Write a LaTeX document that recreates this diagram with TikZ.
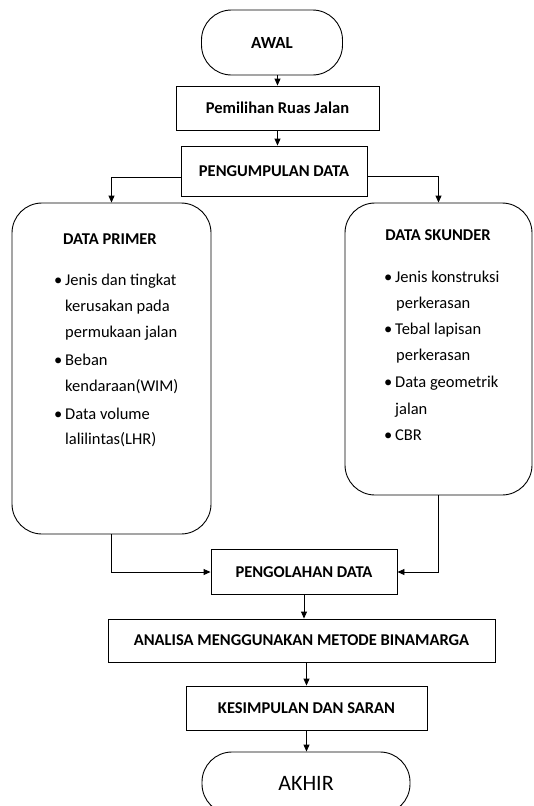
\documentclass[tikz,border=0pt]{standalone}
\usepackage{fontspec}
\setmainfont{Carlito}
\usetikzlibrary{arrows.meta}
\newcommand{\bl}{\makebox[11pt][l]{\textbullet}}
\begin{document}
\begin{tikzpicture}[x=1pt,y=-1pt,
  every node/.style={inner sep=0pt},
  pbox/.style={draw, line width=0.9pt, align=center, font=\fontsize{16.5}{20}\selectfont\bfseries},
  term/.style={draw, line width=0.9pt, rounded corners=30pt},
  dbox/.style={draw, line width=0.9pt, rounded corners=30pt},
  ttl/.style={font=\fontsize{16.5}{20}\selectfont\bfseries},
  item/.style={anchor=mid west, font=\fontsize{16.5}{20}\selectfont},
  arr/.style={draw, line width=0.9pt, -{Triangle[length=7pt,width=6pt]}},
  ln/.style={draw, line width=0.9pt}]
\useasboundingbox (0,0) rectangle (533,806);
\node[term, minimum width=141pt, minimum height=65pt, font=\fontsize{17}{20}\selectfont\bfseries] (awal) at (272,42.5) {AWAL};
\node[pbox, minimum width=203pt, minimum height=44pt] (pem) at (277.5,108) {Pemilihan Ruas Jalan};
\node[pbox, minimum width=186pt, minimum height=50pt] (peng) at (274,171) {PENGUMPULAN DATA};
\node[dbox, minimum width=199pt, minimum height=331pt] (prim) at (111.5,368.5) {};
\node[dbox, minimum width=187pt, minimum height=292pt] (skun) at (438.5,349) {};
\node[pbox, minimum width=186pt, minimum height=45pt] (olah) at (304,572) {PENGOLAHAN DATA};
\node[pbox, minimum width=387pt, minimum height=43pt] (anal) at (301.5,640.5) {ANALISA MENGGUNAKAN METODE BINAMARGA};
\node[pbox, minimum width=241pt, minimum height=44pt] (kes) at (306.5,708) {KESIMPULAN DAN SARAN};
\node[term, minimum width=208pt, minimum height=62pt, font=\fontsize{22}{26}\selectfont] (akhir) at (306,783) {AKHIR};

% DATA PRIMER text
\node[ttl] (pt) at (110,239) {DATA PRIMER};
\node[item] (p1) at (54,283) {\bl Jenis dan tingkat};
\node[item] (p2) at (65,309) {kerusakan pada};
\node[item] (p3) at (65,335) {permukaan jalan};
\node[item] (p4) at (54,363) {\bl Beban};
\node[item] (p5) at (65,389) {kendaraan(WIM)};
\node[item] (p6) at (54,417) {\bl Data volume};
\node[item] (p7) at (65,442) {lalilintas(LHR)};

% DATA SKUNDER text
\node[ttl] (st) at (438,235) {DATA SKUNDER};
\node[item] (s1) at (384,280) {\bl Jenis konstruksi};
\node[item] (s2) at (396,306) {perkerasan};
\node[item] (s3) at (384,332) {\bl Tebal lapisan};
\node[item] (s4) at (396,358) {perkerasan};
\node[item] (s5) at (384,385) {\bl Data geometrik};
\node[item] (s6) at (395,412) {jalan};
\node[item] (s7) at (384,438) {\bl CBR};

% connectors
\draw[arr] (pem.north |- awal.south) -- (pem.north);
\draw[arr] (pem.south) -- (pem.south |- peng.north);
\draw[arr] ([yshift=-6pt]peng.west) -| (prim.north);
\draw[arr] ([yshift=-5pt]peng.east) -| (skun.north);
\draw[arr] (prim.south) |- (olah.west);
\draw[arr] (skun.south) |- (olah.east);
\draw[arr] (olah.south) -- (olah.south |- anal.north);
\draw[arr] (kes.north |- anal.south) -- (kes.north);
\draw[arr] (kes.south) -- (kes.south |- akhir.north);
\end{tikzpicture}
\end{document}
